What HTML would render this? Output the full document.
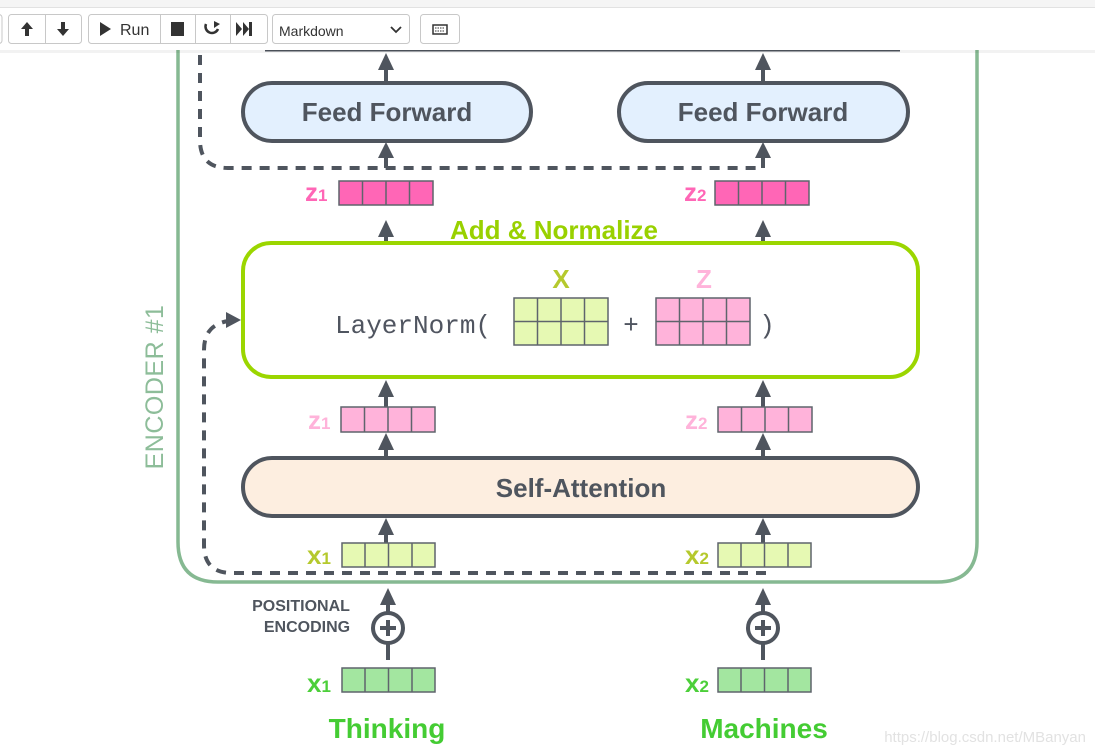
<!DOCTYPE html>
<html><head><meta charset="utf-8"><style>
html,body{margin:0;padding:0;background:#fff;width:1095px;height:754px;overflow:hidden;font-family:"Liberation Sans",sans-serif}
svg{position:absolute;left:0;top:0}
</style></head><body>
<svg width="1095" height="754" viewBox="0 0 1095 754" xmlns="http://www.w3.org/2000/svg">
<g font-family="Liberation Sans, DejaVu Sans, sans-serif">
<path d="M178,40 V542 Q178,582 218,582 H937 Q977,582 977,542 V40" fill="none" stroke="#86b992" stroke-width="3.5"/>
<text transform="translate(163,387) rotate(-90)" text-anchor="middle" font-size="25" fill="#8dbd99" letter-spacing="0.5">ENCODER #1</text>
<line x1="265" y1="50" x2="900" y2="50" stroke="#4f555e" stroke-width="3"/>
<path d="M200,55 V140 Q200,168 228,168 H763" fill="none" stroke="#4f555e" stroke-width="4" stroke-dasharray="10,8"/>
<path d="M766,573 H232 Q204,573 204,545 V350 Q204,325 228,321" fill="none" stroke="#4f555e" stroke-width="4" stroke-dasharray="10,8"/>
<path d="M226,312 L241,320 L226,328 z" fill="#4f555e"/>
<g stroke="#4f555e" stroke-width="4">
<line x1="386" y1="83" x2="386" y2="60"/><line x1="763" y1="83" x2="763" y2="60"/>
<line x1="386" y1="168" x2="386" y2="150"/><line x1="763" y1="168" x2="763" y2="150"/>
<line x1="386" y1="243" x2="386" y2="228"/><line x1="763" y1="243" x2="763" y2="228"/>
<line x1="386" y1="407" x2="386" y2="390"/><line x1="763" y1="407" x2="763" y2="390"/>
<line x1="386" y1="458" x2="386" y2="440"/><line x1="763" y1="458" x2="763" y2="440"/>
<line x1="386" y1="543" x2="386" y2="528"/><line x1="763" y1="543" x2="763" y2="528"/>
<line x1="388" y1="660" x2="388" y2="598"/><line x1="763" y1="660" x2="763" y2="598"/>
</g>
<g fill="#4f555e">
<path d="M378,70 L386,53 L394,70z"/><path d="M755,70 L763,53 L771,70z"/>
<path d="M378,158 L386,142 L394,158z"/><path d="M755,158 L763,142 L771,158z"/>
<path d="M378,237 L386,220 L394,237z"/><path d="M755,237 L763,220 L771,237z"/>
<path d="M378,397 L386,380 L394,397z"/><path d="M755,397 L763,380 L771,397z"/>
<path d="M378,450 L386,433 L394,450z"/><path d="M755,450 L763,433 L771,450z"/>
<path d="M378,535 L386,518 L394,535z"/><path d="M755,535 L763,518 L771,535z"/>
<path d="M380,605 L388,588 L396,605z"/><path d="M755,605 L763,588 L771,605z"/>
</g>
<g stroke="#4f555e" stroke-width="4" fill="#fff">
<circle cx="388" cy="628" r="15"/><circle cx="763" cy="628" r="15"/>
<line x1="380" y1="628" x2="396" y2="628"/><line x1="388" y1="620" x2="388" y2="636"/>
<line x1="755" y1="628" x2="771" y2="628"/><line x1="763" y1="620" x2="763" y2="636"/>
</g>
<rect x="243" y="83" width="288" height="58" rx="29" fill="#e3f0fe" stroke="#4f555e" stroke-width="4"/>
<rect x="619" y="83" width="289" height="58" rx="29" fill="#e3f0fe" stroke="#4f555e" stroke-width="4"/>
<text x="387" y="121" text-anchor="middle" font-size="26" font-weight="bold" fill="#4f555e">Feed Forward</text>
<text x="763" y="121" text-anchor="middle" font-size="26" font-weight="bold" fill="#4f555e">Feed Forward</text>
<text x="554" y="239" text-anchor="middle" font-size="26" font-weight="bold" fill="#99d100">Add &amp; Normalize</text>
<rect x="243" y="243" width="675" height="134" rx="28" fill="#fff" stroke="#9bd600" stroke-width="4"/>
<text x="335" y="333" font-family="Liberation Mono, DejaVu Sans Mono, monospace" font-size="26" fill="#505560">LayerNorm(</text>
<text x="561" y="288" text-anchor="middle" font-size="26" font-weight="bold" fill="#b5c92d">X</text>
<text x="704" y="288" text-anchor="middle" font-size="26" font-weight="bold" fill="#ffb3da">Z</text>
<text x="631" y="333" text-anchor="middle" font-size="26" fill="#505560">+</text>
<text x="767" y="333" text-anchor="middle" font-family="Liberation Mono, monospace" font-size="26" fill="#505560">)</text>
<g stroke="#5f646c" stroke-width="1.5">
<rect x="514" y="298" width="94" height="47" fill="#e6f9b3"/>
<line x1="514" y1="321.5" x2="608" y2="321.5"/><line x1="537.5" y1="298" x2="537.5" y2="345"/><line x1="561" y1="298" x2="561" y2="345"/><line x1="584.5" y1="298" x2="584.5" y2="345"/>
<rect x="656" y="298" width="94" height="47" fill="#ffb3da"/>
<line x1="656" y1="321.5" x2="750" y2="321.5"/><line x1="679.5" y1="298" x2="679.5" y2="345"/><line x1="703" y1="298" x2="703" y2="345"/><line x1="726.5" y1="298" x2="726.5" y2="345"/>
</g>
<rect x="243" y="458" width="675" height="58" rx="29" fill="#fdeee0" stroke="#4f555e" stroke-width="4"/>
<text x="581" y="497" text-anchor="middle" font-size="26" font-weight="bold" fill="#4f555e">Self-Attention</text>
<g stroke="#5f646c" stroke-width="1.5">
<g fill="#ff66b6"><rect x="339" y="181" width="94" height="24"/><rect x="715" y="181" width="94" height="24"/></g>
<g fill="#ffb3da"><rect x="341" y="407" width="94" height="25"/><rect x="718" y="407" width="94" height="25"/></g>
<g fill="#e6f9b3"><rect x="342" y="543" width="93" height="24"/><rect x="718" y="543" width="93" height="24"/></g>
<g fill="#a3e6a0"><rect x="342" y="668" width="93" height="24"/><rect x="718" y="668" width="93" height="24"/></g>
<path d="M362.5,181V205M386,181V205M409.5,181V205M738.5,181V205M762,181V205M785.5,181V205"/>
<path d="M364.5,407V432M388,407V432M411.5,407V432M741.5,407V432M765,407V432M788.5,407V432"/>
<path d="M365,543V567M388.5,543V567M412,543V567M741,543V567M764.5,543V567M788,543V567"/>
<path d="M365,668V692M388.5,668V692M412,668V692M741,668V692M764.5,668V692M788,668V692"/>
</g>
<g font-weight="bold" font-size="26">
<text x="305" y="201" fill="#ff66b6">z<tspan font-size="17">1</tspan></text>
<text x="684" y="201" fill="#ff66b6">z<tspan font-size="17">2</tspan></text>
<text x="308" y="429" fill="#ffb3da">z<tspan font-size="17">1</tspan></text>
<text x="685" y="429" fill="#ffb3da">z<tspan font-size="17">2</tspan></text>
<text x="307" y="564" fill="#b5c92d">x<tspan font-size="17">1</tspan></text>
<text x="685" y="564" fill="#b5c92d">x<tspan font-size="17">2</tspan></text>
<text x="307" y="692" fill="#4ccf3a">x<tspan font-size="17">1</tspan></text>
<text x="685" y="692" fill="#4ccf3a">x<tspan font-size="17">2</tspan></text>
</g>
<text x="301" y="611" text-anchor="middle" font-size="16" font-weight="bold" fill="#4f555e">POSITIONAL</text>
<text x="307" y="632" text-anchor="middle" font-size="16" font-weight="bold" fill="#4f555e">ENCODING</text>
<text x="387" y="738" text-anchor="middle" font-size="28" font-weight="bold" fill="#44cc33">Thinking</text>
<text x="764" y="738" text-anchor="middle" font-size="28" font-weight="bold" fill="#44cc33">Machines</text>
<text x="1086" y="742" text-anchor="end" font-size="15" fill="#e2e2e2">https://blog.csdn.net/MBanyan</text>
</g>
<rect x="0" y="0" width="1095" height="50" fill="#fff"/>
<rect x="0" y="0" width="1095" height="7" fill="#f5f5f5"/>
<line x1="0" y1="7.5" x2="1095" y2="7.5" stroke="#e2e2e2"/>
<rect x="0" y="50" width="1095" height="3" fill="#000" opacity="0.05"/>
<g fill="#fff" stroke="#c8c8c8">
<rect x="-5" y="14.5" width="7" height="29" rx="3"/>
<rect x="8.5" y="14.5" width="73" height="29" rx="3"/>
<rect x="88.5" y="14.5" width="179" height="29" rx="3"/>
<rect x="272.5" y="14.5" width="137" height="29" rx="3"/>
<rect x="420.5" y="14.5" width="39" height="29" rx="3"/>
<line x1="45.5" y1="14" x2="45.5" y2="44"/>
<line x1="160.5" y1="14" x2="160.5" y2="44"/><line x1="195.5" y1="14" x2="195.5" y2="44"/><line x1="230.5" y1="14" x2="230.5" y2="44"/>
</g>
<g fill="#333">
<path d="M21,29 L27,22 L33,29 H29 V36 H25 V29z"/>
<path d="M57,29 L63,36 L69,29 H65 V22 H61 V29z"/>
<path d="M100,22 L111,29 L100,36z"/>
<text x="120" y="35" font-size="16" font-family="Liberation Sans, sans-serif">Run</text>
<rect x="171" y="22" width="13" height="14"/>
<path d="M236,22 L242,29 L236,36z M243,22 L249,29 L243,36z M249,22 h3 v14 h-3z"/>
<text x="279" y="36" font-size="14" font-family="Liberation Sans, sans-serif">Markdown</text>
</g>
<path d="M206,24 A6,6 0 1 0 218,29" fill="none" stroke="#333" stroke-width="2.5"/>
<path d="M214,21 L220,24 L214,28z" fill="#333"/>
<path d="M391,27 L396,32 L401,27" fill="none" stroke="#333" stroke-width="1.8"/>
<rect x="433" y="25" width="14" height="9" fill="none" stroke="#333" stroke-width="1.5"/>
<path d="M435,28h10M435,31h10" stroke="#333" stroke-width="1" stroke-dasharray="1.5,1"/>
</svg>
</body></html>
